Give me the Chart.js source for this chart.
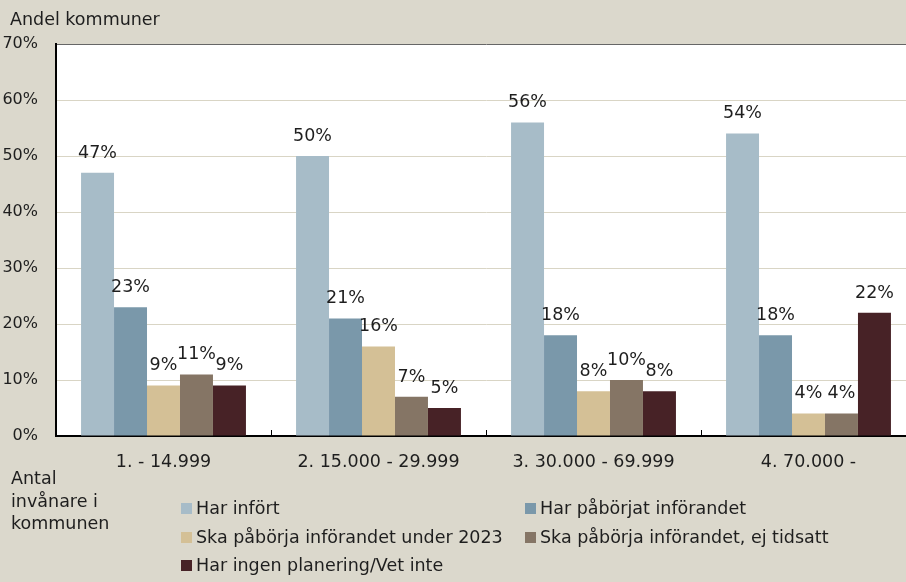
<!DOCTYPE html>
<html>
<head>
<meta charset="utf-8">
<script src="https://cdn.jsdelivr.net/npm/chart.js@4/dist/chart.umd.min.js"></script>
<style>
    body { margin: 0; background: #dbd8cc; overflow: hidden; font-family: "DejaVu Sans", sans-serif; color: #1e1e1e; }
    #wrap { position: relative; width: 906px; height: 582px; overflow: hidden; }
    #chartBox { position: absolute; left: 0; top: 0; width: 920px; height: 582px; }
    .txt { position: absolute; font-size: 17.5px; line-height: 22.5px; white-space: nowrap; }
    .leg-item { position: absolute; font-size: 17.5px; white-space: nowrap; display: flex; align-items: center; height: 22px; }
    .leg-box { width: 11px; height: 11px; margin-right: 4px; }
</style>
</head>
<body>
<div id="wrap">
    <div id="chartBox"><canvas id="mainChart" width="920" height="582"></canvas></div>
    <div class="txt" style="left:10px; top:8px;">Andel kommuner</div>
    <div class="txt" style="left:11px; top:467px;">Antal<br>invånare i<br>kommunen</div>
    <div id="legend"></div>
</div>
<script>
// Data
const categories = ['1. - 14.999', '2. 15.000 - 29.999', '3. 30.000 - 69.999', '4. 70.000 -'];
const seriesNames = [
    'Har infört',
    'Har påbörjat införandet',
    'Ska påbörja införandet under 2023',
    'Ska påbörja införandet, ej tidsatt',
    'Har ingen planering/Vet inte'
];
const harInfort = [47, 50, 56, 54];
const harPaborjat = [23, 21, 18, 18];
const skaUnder2023 = [9, 16, 8, 4];
const skaEjTidsatt = [11, 7, 10, 4];
const ingenPlanering = [9, 5, 8, 22];
const yTicks = [0, 10, 20, 30, 40, 50, 60, 70];

const colors = ['#a7bcc8', '#7a98aa', '#d4c096', '#857565', '#472226'];
const seriesData = [harInfort, harPaborjat, skaUnder2023, skaEjTidsatt, ingenPlanering];

const FONT = { family: '"DejaVu Sans", sans-serif', size: 17.5 };

// Value labels above the bars
const valueLabels = {
    id: 'valueLabels',
    afterDatasetsDraw(chart) {
        const c = chart.ctx;
        c.save();
        c.font = '17.5px "DejaVu Sans", sans-serif';
        c.fillStyle = '#1e1e1e';
        c.textAlign = 'center';
        c.textBaseline = 'bottom';
        chart.data.datasets.forEach((ds, i) => {
            chart.getDatasetMeta(i).data.forEach((bar, j) => {
                c.fillText(ds.data[j] + '%', bar.x, bar.y - 11);
            });
        });
        c.restore();
    }
};

// Small ticks between categories, pointing up into the plot
const innerTicks = {
    id: 'innerTicks',
    afterDraw(chart) {
        const c = chart.ctx;
        const x = chart.scales.x;
        const bottom = chart.chartArea.bottom;
        c.save();
        c.strokeStyle = '#000';
        c.lineWidth = 1;
        for (let i = 1; i < categories.length; i++) {
            const px = Math.round((x.getPixelForValue(i - 1) + x.getPixelForValue(i)) / 2) + 0.5;
            c.beginPath();
            c.moveTo(px, bottom);
            c.lineTo(px, bottom - 6);
            c.stroke();
        }
        c.restore();
    }
};

// Plot background white
const plotBg = {
    id: 'plotBg',
    beforeDraw(chart) {
        const a = chart.chartArea;
        chart.ctx.save();
        chart.ctx.fillStyle = '#ffffff';
        chart.ctx.fillRect(a.left, a.top, a.right - a.left, a.bottom - a.top);
        chart.ctx.restore();
    }
};

const ctx = document.getElementById('mainChart');
const chart = new Chart(ctx, {
    type: 'bar',
    data: {
        labels: categories,
        datasets: seriesNames.map((name, i) => ({
            label: name,
            data: seriesData[i],
            backgroundColor: colors[i],
            barPercentage: 1,
            categoryPercentage: 0.767
        }))
    },
    options: {
        responsive: false,
        animation: false,
        layout: { padding: { top: 44, right: 4, left: 0, bottom: 0 } },
        plugins: {
            legend: { display: false },
            tooltip: { enabled: false }
        },
        scales: {
            y: {
                min: 0,
                max: 70,
                afterBuildTicks(scale) {
                    scale.ticks = yTicks.map(v => ({ value: v }));
                },
                afterFit(scale) { scale.width = 56; },
                ticks: {
                    font: { family: '"DejaVu Sans", sans-serif', size: 16 },
                    color: '#1e1e1e',
                    padding: 18,
                    callback: v => v + '%'
                },
                grid: {
                    color: ctx => ctx.tick && ctx.tick.value === 70 ? '#666' : '#d9d5c5',
                    drawTicks: false
                },
                border: { color: '#000', width: 2 }
            },
            x: {
                afterFit(scale) { scale.height = 146; },
                ticks: {
                    font: FONT,
                    color: '#1e1e1e',
                    padding: 8
                },
                grid: { display: false },
                border: { color: '#000', width: 2 }
            }
        }
    },
    plugins: [plotBg, valueLabels, innerTicks]
});

// Legend in two columns, built from the chart
const legendEl = document.getElementById('legend');
const legPos = [[181, 497], [525, 497], [181, 526], [525, 526], [181, 554]];
chart.data.datasets.forEach((ds, i) => {
    const item = document.createElement('div');
    item.className = 'leg-item';
    item.style.left = legPos[i][0] + 'px';
    item.style.top = legPos[i][1] + 'px';
    item.innerHTML = '<span class="leg-box" style="background:' + ds.backgroundColor + '"></span>' + ds.label;
    legendEl.appendChild(item);
});
</script>
</body>
</html>
